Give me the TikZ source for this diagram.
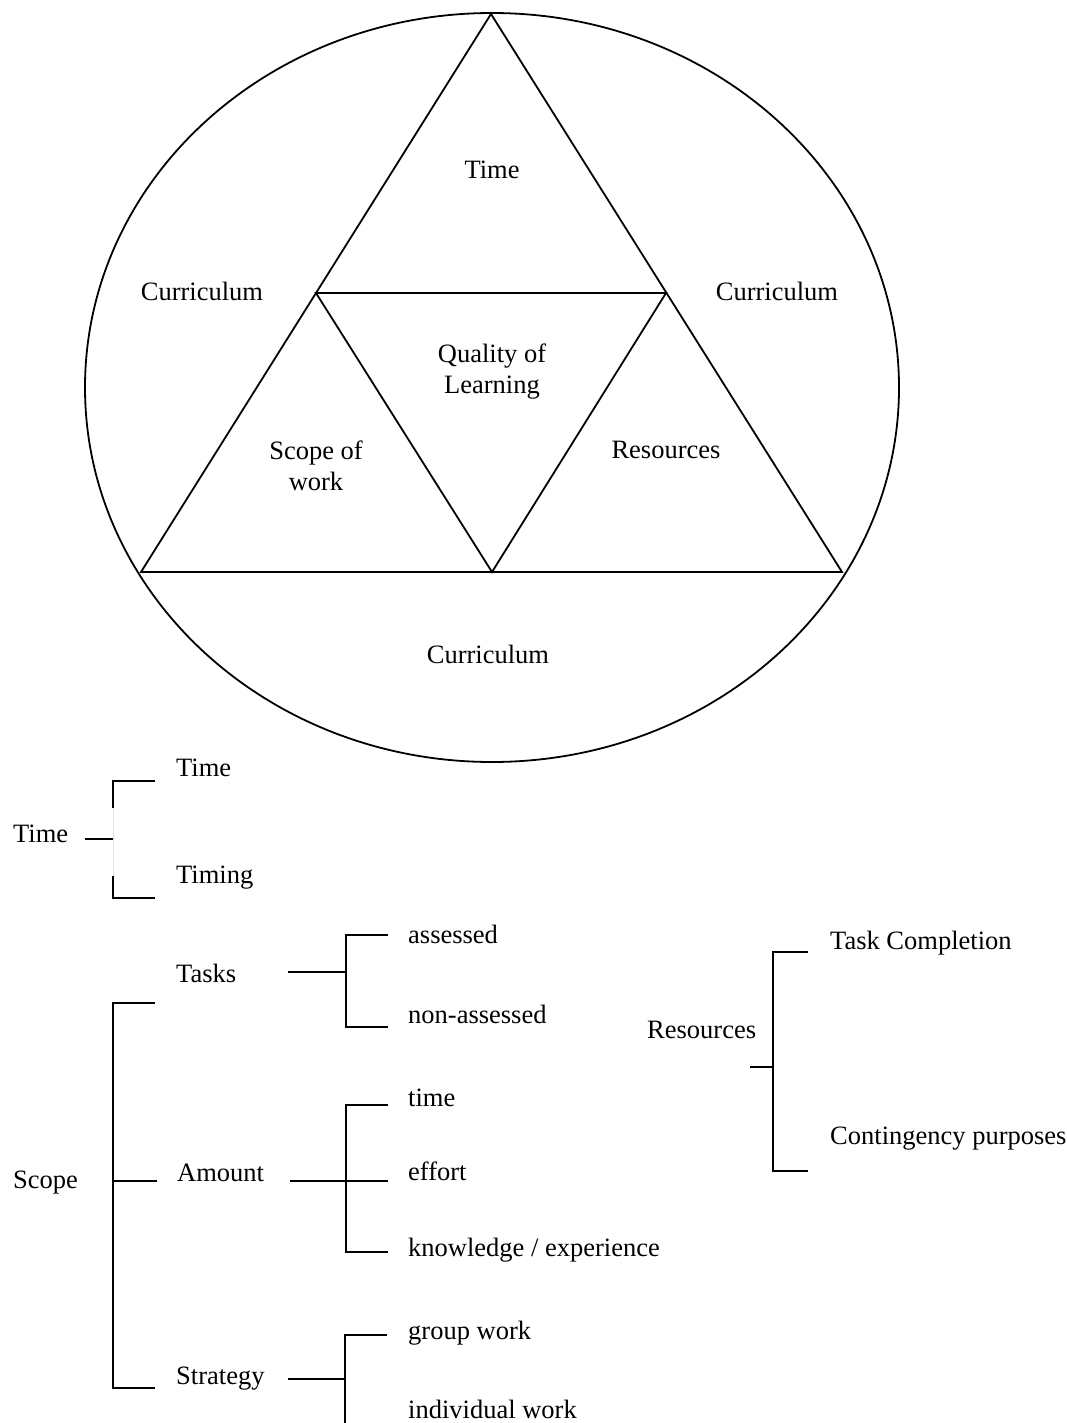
\documentclass[tikz,border=0pt]{standalone}
\usepackage{fontspec}
\setmainfont{Liberation Serif}
\begin{document}
\begin{tikzpicture}[x=1pt,y=-1pt,
  ln/.style={line width=1.8pt,black},
  lbl/.style={font=\fontsize{26.5}{31}\selectfont,inner sep=0pt,anchor=west,text height=18.5pt,text depth=5.5pt},
  clbl/.style={font=\fontsize{26.5}{31}\selectfont,inner sep=0pt,align=center}]
\useasboundingbox (0,0) rectangle (1067,1423);
% ellipse and triangles
\draw[ln] (492,387.5) ellipse [x radius=407, y radius=374.5];
\coordinate (A) at (491,14);
\coordinate (BL) at (141,572);
\coordinate (BR) at (842,572);
\coordinate (ML) at (316,293);
\coordinate (MR) at (666,293);
\coordinate (MB) at (492,572);
\draw[ln,line join=miter] (A) -- (BR) -- (BL) -- cycle;
\draw[ln] (ML) -- (MR) -- (MB) -- cycle;
\node[clbl] (tTime) at (492,170) {Time};
\node[clbl] (tQual) at (492,372) {Quality of\\Learning};
\node[clbl] (tScope) at (316,466) {Scope of\\work};
\node[clbl] (tRes) at (666,450) {Resources};
\node[clbl] (cL) at (202,291) {Curriculum};
\node[clbl] (cR) at (777,291) {Curriculum};
\node[clbl] (cB) at (488,654) {Curriculum};
% Time tree
\node[lbl] (time) at (13,836) {Time};
\node[lbl] (time1) at (176,770) {Time};
\node[lbl] (time2) at (176,877) {Timing};
\coordinate (tS) at (85,839);
\coordinate (tV) at (113,839);
\coordinate (tT) at (113,781);
\coordinate (tB) at (113,898);
\draw[ln] (tS) -- (tV);
\draw[ln] (155,781) -- (tT) -- (113,808);
\draw[ln] (155,898) -- (tB) -- (113,876);
\draw[line width=0.8pt,black!12] (113,808) -- (113,876);
% Scope tree
\node[lbl] (scope) at (13,1182) {Scope};
\node[lbl] (tasks) at (176,976) {Tasks};
\node[lbl] (amount) at (177,1175) {Amount};
\node[lbl] (strategy) at (176,1378) {Strategy};
\draw[ln] (155,1003) -- (113,1003) -- (113,1388) -- (155,1388);
\draw[ln] (113,1181) -- (157,1181);
% Tasks subtree
\node[lbl] (ass) at (408,937) {assessed};
\node[lbl] (nass) at (408,1017) {non-assessed};
\draw[ln] (288,972) -- (346,972);
\draw[ln] (388,935) -- (346,935) -- (346,1027) -- (388,1027);
% Amount subtree
\node[lbl] (atime) at (408,1100) {time};
\node[lbl] (aeff) at (408,1174) {effort};
\node[lbl] (aknow) at (408,1250) {knowledge / experience};
\draw[ln] (290,1181) -- (388,1181);
\draw[ln] (388,1105) -- (346,1105) -- (346,1252) -- (388,1252);
% Strategy subtree
\node[lbl] (sg) at (408,1333) {group work};
\node[lbl] (si) at (408,1412) {individual work};
\draw[ln] (288,1379) -- (345,1379);
\draw[ln] (387,1335) -- (345,1335) -- (345,1430);
% Resources tree
\node[lbl] (res) at (647,1032) {Resources};
\node[lbl] (tc) at (830,943) {Task Completion};
\node[lbl] (cp) at (830,1138) {Contingency purposes};
\draw[ln] (750,1067) -- (773,1067);
\draw[ln] (808,952) -- (773,952) -- (773,1171) -- (808,1171);
\end{tikzpicture}
\end{document}
